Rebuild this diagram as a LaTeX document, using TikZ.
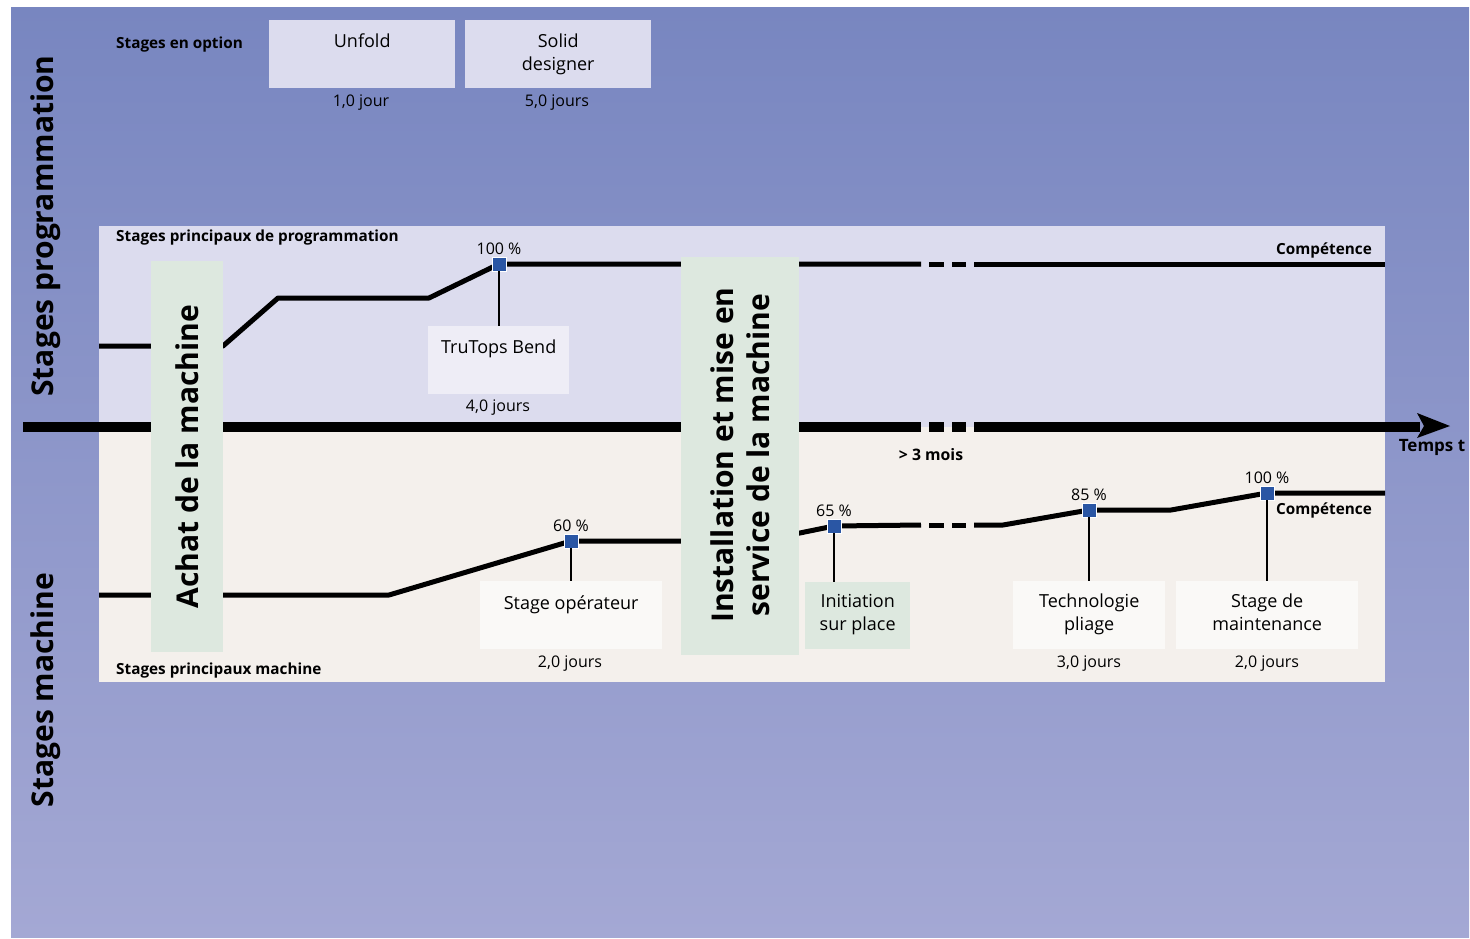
\documentclass[tikz,border=0pt]{standalone}
\usepackage{fontspec}
\setmainfont{Open Sans}
\usetikzlibrary{calc}
\definecolor{bgtop}{HTML}{7886C0}
\definecolor{bgbot}{HTML}{A4A8D4}
\definecolor{upperc}{HTML}{DCDCEE}
\definecolor{lowerc}{HTML}{F4F0EC}
\definecolor{greenc}{HTML}{DDE8DF}
\definecolor{ttc}{HTML}{EEEDF6}
\definecolor{mboxc}{HTML}{FAF9F7}
\definecolor{markc}{HTML}{2A56A4}
\newcommand{\bxfont}{\fontsize{18}{23}\selectfont}
\newcommand{\smfont}{\fontsize{16}{19}\selectfont}
\newcommand{\bsfont}{\fontsize{15.3}{18}\selectfont\bfseries}
\newcommand{\bigfont}{\fontsize{30}{36}\selectfont\bfseries}
\begin{document}
\begin{tikzpicture}[x=1pt,y=-1pt,
  optbox/.style={fill=upperc,minimum width=186pt,minimum height=68pt,inner sep=0pt,anchor=north west},
  stagebox/.style={fill=mboxc,minimum width=#1,minimum height=68pt,inner sep=0pt,anchor=north west},
  btext/.style={font=\bxfont,align=center,inner sep=0pt,anchor=north},
  stext/.style={font=\smfont,inner sep=0pt},
  boldlbl/.style={font=\bsfont,inner sep=0pt},
  greenbar/.style={fill=greenc,inner sep=0pt,anchor=north west},
  comp/.style={line width=5pt,line join=round},
  axis/.style={line width=10.5pt},
  conn/.style={line width=2.2pt},
  marker/.style={fill=markc,draw=white,line width=0.8pt,minimum size=14pt,inner sep=0pt},
  pct/.style={font=\smfont,inner sep=0pt,anchor=south}]
\useasboundingbox (0,0) rectangle (1470,938);
% background
\shade[top color=bgtop,bottom color=bgbot] (11,7) rectangle (1469,937);
\fill[upperc] (99,226) rectangle (1385,427);
\fill[lowerc] (99,427) rectangle (1385,682);

% optional stages
\node[boldlbl,anchor=west] (opt) at (116,45) {Stages en option};
\node[optbox] (unf) at (269,20) {};
\node[optbox] (sol) at (465,20) {};
\node[btext] (unft) at ($(unf.north)+(0,14)$) {Unfold};
\node[btext] (solt) at ($(sol.north)+(0,14)$) {Solid\\designer};
\node[stext] (unfd) at (361,103) {1,0 jour};
\node[stext] (sold) at (557,103) {5,0 jours};

% labels
\node[boldlbl,anchor=west] (spp) at (116,238) {Stages principaux de programmation};
\node[boldlbl,anchor=west] (spm) at (116,671) {Stages principaux machine};
\node[boldlbl,anchor=east] (comp1) at (1372,250) {Compétence};
\node[boldlbl,anchor=east] (comp2) at (1372,510) {Compétence};
\node[boldlbl,font=\fontsize{15.8}{18}\selectfont\bfseries] (mois) at (931,455) {> 3 mois};
\node[boldlbl,font=\fontsize{17}{20}\selectfont\bfseries] (temps) at (1432,447) {Temps t};
\node[font=\bigfont,rotate=90,inner sep=0pt] (sprog) at (46,226) {Stages programmation};
\node[font=\bigfont,rotate=90,inner sep=0pt] (smach) at (46,690) {Stages machine};

% axis
\draw[axis] (23,427) -- (921,427);
\draw[axis] (929,427) -- (944,427);
\draw[axis] (952,427) -- (966,427);
\draw[axis] (974,427) -- (1420,427);
\coordinate (tip) at (1450,426);
\fill (tip) -- (1417,413) -- (1424,426) -- (1417,438) -- cycle;

% upper competence line
\draw[comp] (99,346) -- (223,346) -- (278,298) -- (429,298) -- (499,264) -- (921,264);
\draw[comp] (929,264) -- (944,264);
\draw[comp] (952,264) -- (966,264);
\draw[comp] (974,264) -- (1385,264);

% lower competence line
\draw[comp] (99,595) -- (389,595) -- (571,541) -- (690,541);
\draw[comp] (790,535) -- (834,526) -- (921,525);
\draw[comp] (929,525) -- (944,525);
\draw[comp] (952,525) -- (966,525);
\draw[comp] (974,525) -- (1003,525) -- (1089,510) -- (1171,510) -- (1267,493) -- (1385,493);

% green bars
\node[greenbar,minimum width=72pt,minimum height=391pt] (achat) at (151,261) {};
\node[font=\bigfont,rotate=90,inner sep=0pt] (achatt) at (achat.center) {Achat de la machine};
\node[greenbar,minimum width=118pt,minimum height=398pt] (inst) at (681,257) {};
\node[font=\bigfont,rotate=90,inner sep=0pt,align=center] (instt) at ($(inst.center)+(0,-1)$) {Installation et mise en\\service de la machine};

% stage boxes
\node[stagebox=141pt,fill=ttc] (tt) at (428,326) {};
\node[btext] (ttt) at ($(tt.north)+(0,14)$) {TruTops Bend};
\node[stext] (ttd) at (498,408) {4,0 jours};

\node[stagebox=182pt] (op) at (480,581) {};
\node[btext] (opt2) at ($(op.north)+(0,14)$) {Stage opérateur};
\node[stext] (opd) at (570,664) {2,0 jours};

\node[stagebox=105pt,fill=greenc,minimum height=67pt] (ini) at (805,582) {};
\node[btext] (init) at ($(ini.north)+(0,12)$) {Initiation\\sur place};

\node[stagebox=152pt] (tec) at (1013,581) {};
\node[btext] (tect) at ($(tec.north)+(0,13)$) {Technologie\\pliage};
\node[stext] (tecd) at (1089,664) {3,0 jours};

\node[stagebox=182pt] (mai) at (1176,581) {};
\node[btext] (mait) at ($(mai.north)+(0,13)$) {Stage de\\maintenance};
\node[stext] (maid) at (1267,664) {2,0 jours};

% markers
\node[marker] (m1) at (499,264) {};
\node[marker] (m2) at (571,541) {};
\node[marker] (m3) at (834,526) {};
\node[marker] (m4) at (1089,510) {};
\node[marker] (m5) at (1267,493) {};
\node[pct] at ($(m1.north)+(0,-2)$) {100 \%};
\node[pct] at ($(m2.north)+(0,-2)$) {60 \%};
\node[pct] at ($(m3.north)+(0,-2)$) {65 \%};
\node[pct] at ($(m4.north)+(0,-2)$) {85 \%};
\node[pct] at ($(m5.north)+(0,-2)$) {100 \%};

% connectors
\draw[conn] (m1.south) -- (m1.south |- tt.north);
\draw[conn] (m2.south) -- (m2.south |- op.north);
\draw[conn] (m3.south) -- (m3.south |- ini.north);
\draw[conn] (m4.south) -- (m4.south |- tec.north);
\draw[conn] (m5.south) -- (m5.south |- mai.north);
\end{tikzpicture}
\end{document}
